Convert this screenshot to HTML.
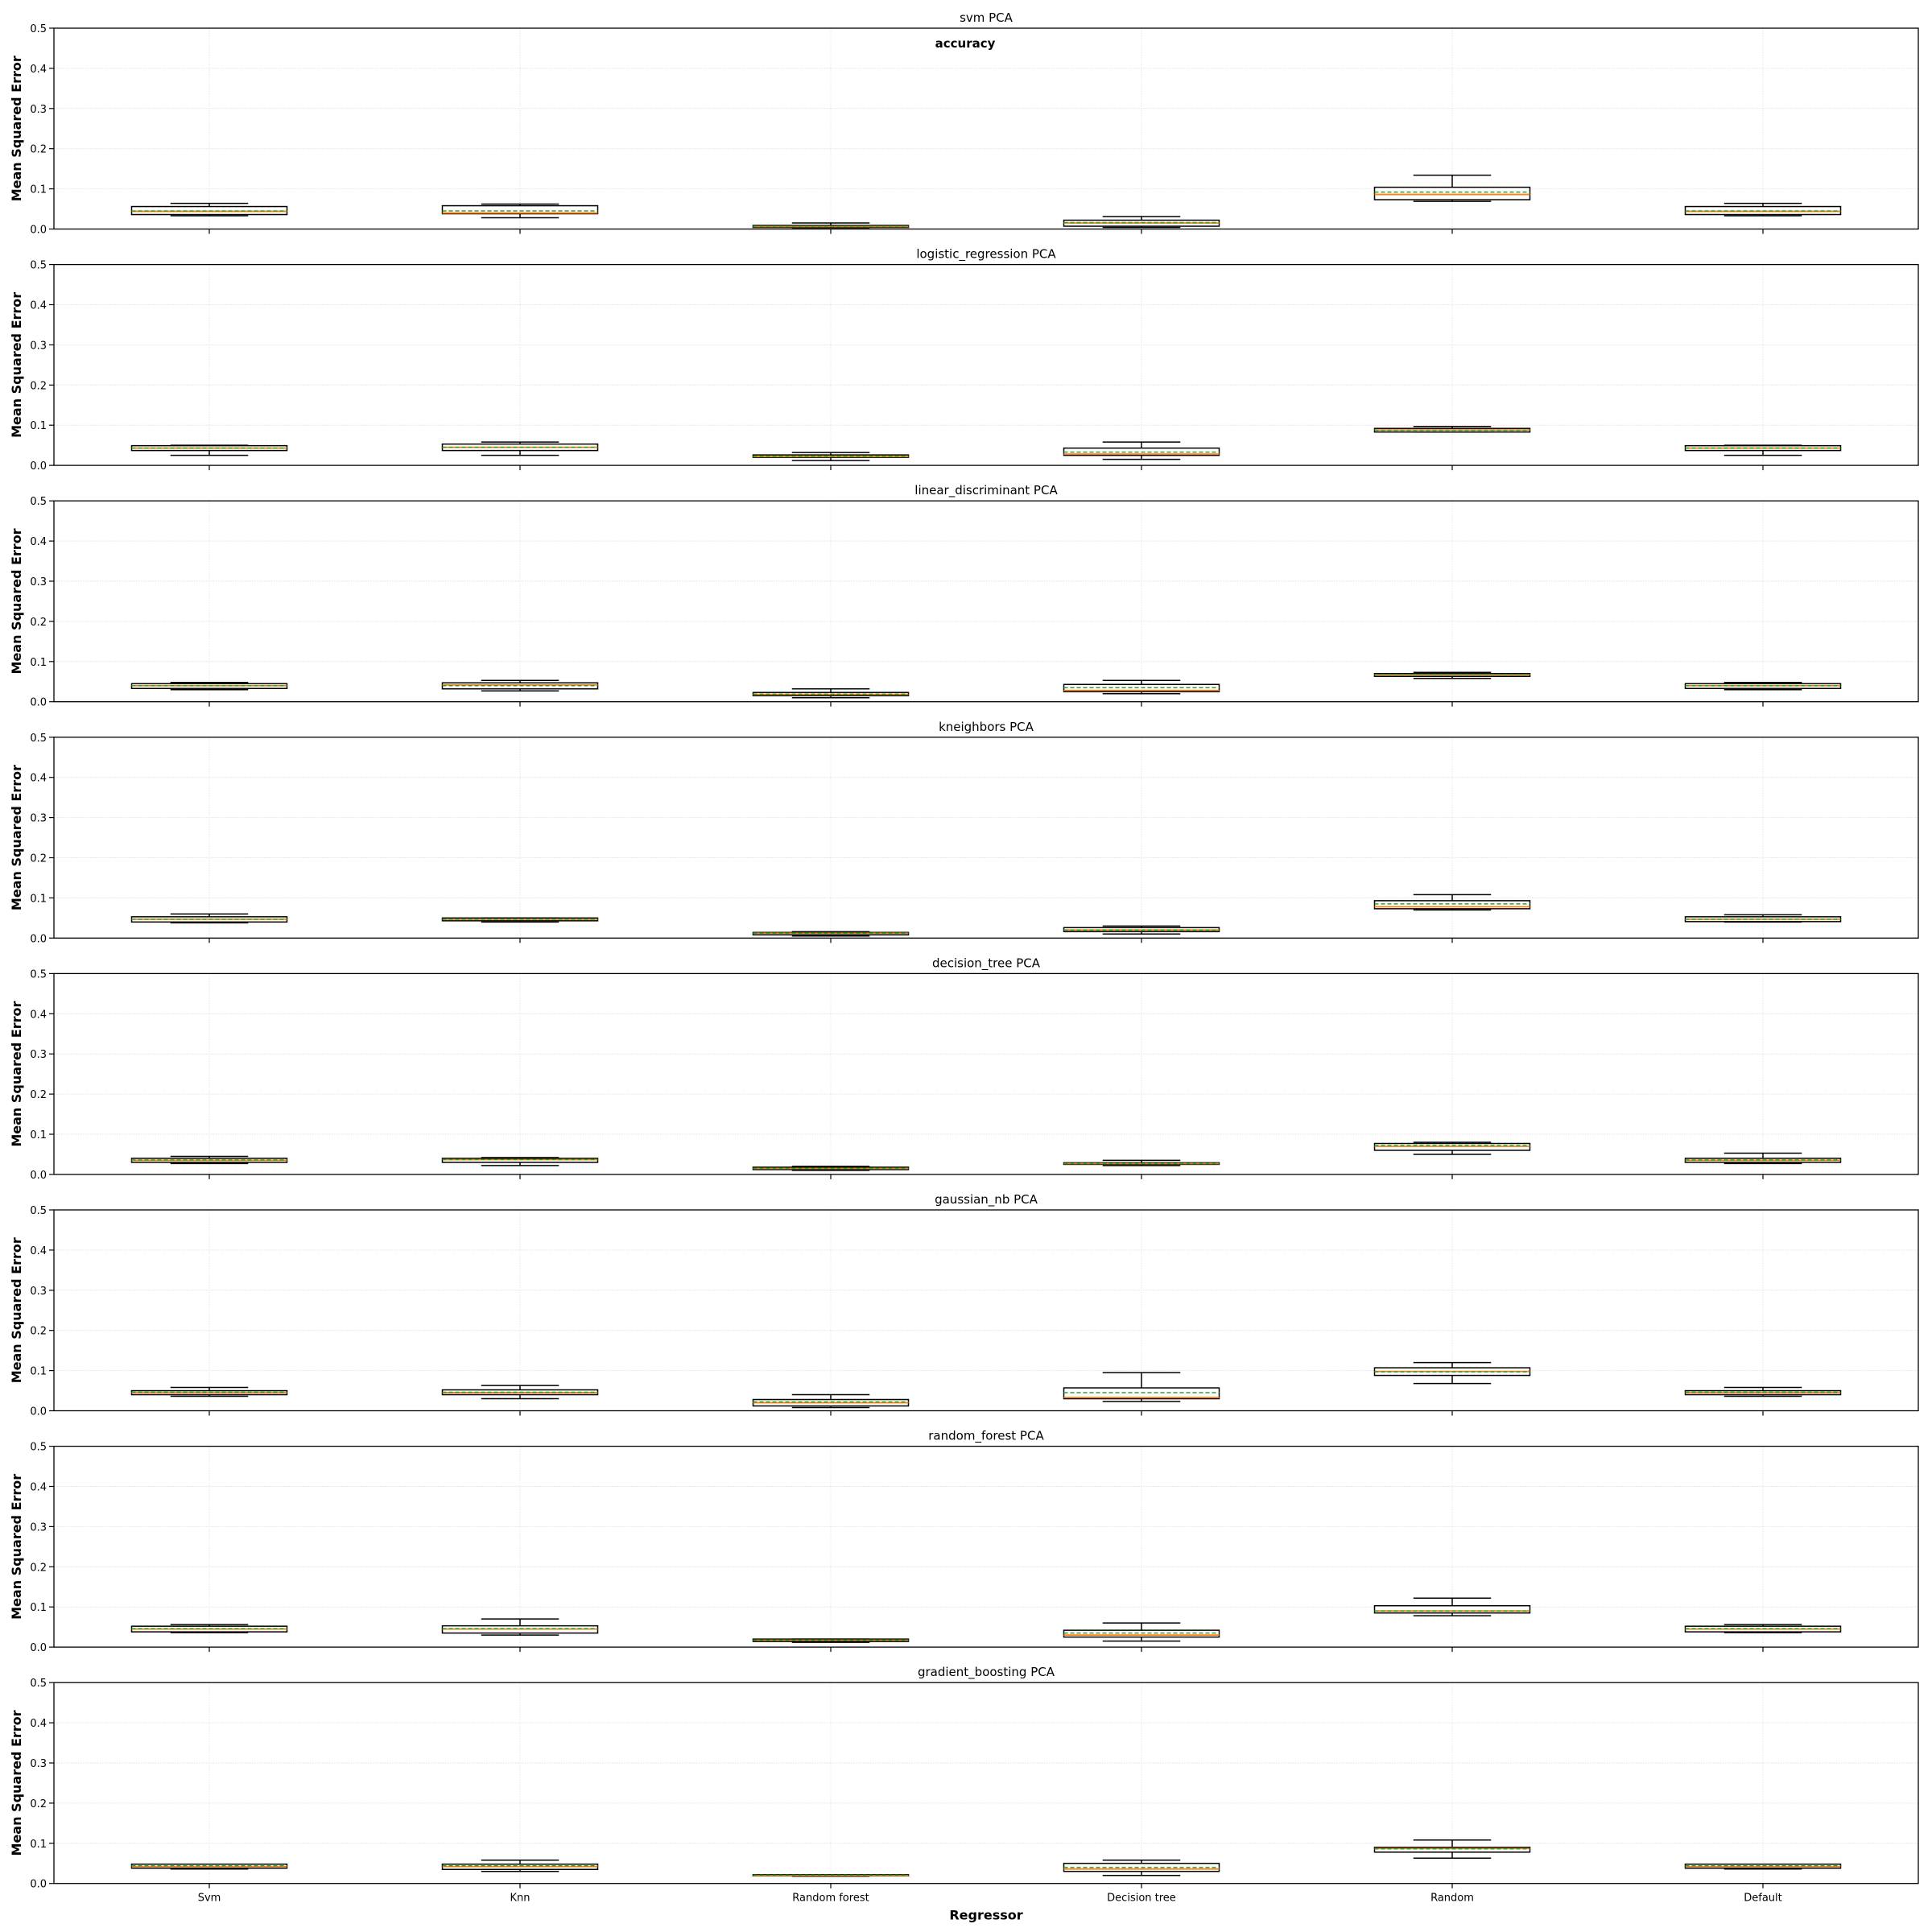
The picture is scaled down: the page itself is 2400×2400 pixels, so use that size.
<!DOCTYPE html>
<html><head><meta charset="utf-8"><style>
html,body{margin:0;padding:0;background:#fff}
svg{display:block;font-family:"DejaVu Sans","Liberation Sans",sans-serif}
</style></head><body>
<svg id="chart" width="2400" height="2400" viewBox="0 0 2400 2400" xmlns="http://www.w3.org/2000/svg"></svg>
<script>
const categories = ["Svm","Knn","Random forest","Decision tree","Random","Default"];
const panelTitles = ["svm PCA","logistic_regression PCA","linear_discriminant PCA","kneighbors PCA","decision_tree PCA","gaussian_nb PCA","random_forest PCA","gradient_boosting PCA"];
const yTicks = [0,0.1,0.2,0.3,0.4,0.5];
const yTickLabels = ["0.0","0.1","0.2","0.3","0.4","0.5"];
// each box: [low whisker, q1, median, mean, q3, high whisker]
const svmPCA = [[0.033,0.036,0.044,0.045,0.056,0.064],[0.028,0.038,0.040,0.045,0.058,0.062],[0.003,0.004,0.006,0.007,0.009,0.015],[0.004,0.007,0.015,0.016,0.022,0.031],[0.069,0.073,0.086,0.092,0.104,0.134],[0.033,0.036,0.044,0.045,0.056,0.064]];
const logisticPCA = [[0.025,0.037,0.043,0.043,0.049,0.050],[0.025,0.037,0.045,0.045,0.053,0.058],[0.012,0.020,0.022,0.023,0.026,0.032],[0.015,0.025,0.028,0.033,0.043,0.058],[0.083,0.083,0.088,0.087,0.092,0.097],[0.025,0.037,0.043,0.043,0.049,0.050]];
const linearPCA = [[0.030,0.033,0.040,0.040,0.045,0.048],[0.027,0.032,0.042,0.040,0.047,0.053],[0.010,0.015,0.018,0.019,0.023,0.032],[0.020,0.025,0.028,0.035,0.043,0.053],[0.058,0.063,0.067,0.068,0.070,0.073],[0.030,0.033,0.040,0.040,0.045,0.048]];
const kneighborsPCA = [[0.038,0.040,0.047,0.047,0.053,0.060],[0.040,0.043,0.047,0.047,0.050,0.050],[0.005,0.008,0.012,0.012,0.014,0.016],[0.010,0.016,0.020,0.020,0.026,0.030],[0.070,0.073,0.078,0.085,0.093,0.108],[0.040,0.041,0.047,0.047,0.053,0.058]];
const decisionTreePCA = [[0.027,0.030,0.035,0.036,0.040,0.045],[0.022,0.030,0.037,0.037,0.040,0.042],[0.010,0.012,0.015,0.015,0.018,0.020],[0.022,0.025,0.027,0.027,0.029,0.035],[0.050,0.060,0.070,0.072,0.077,0.080],[0.027,0.030,0.035,0.036,0.040,0.053]];
const gaussianPCA = [[0.036,0.040,0.045,0.046,0.050,0.058],[0.030,0.040,0.045,0.046,0.052,0.063],[0.008,0.012,0.020,0.022,0.028,0.040],[0.023,0.030,0.033,0.045,0.057,0.095],[0.068,0.088,0.098,0.097,0.107,0.120],[0.036,0.040,0.045,0.046,0.050,0.058]];
const randomForestPCA = [[0.036,0.038,0.045,0.046,0.052,0.056],[0.030,0.035,0.045,0.046,0.053,0.070],[0.012,0.014,0.017,0.017,0.020,0.020],[0.015,0.025,0.030,0.035,0.042,0.060],[0.078,0.085,0.090,0.090,0.103,0.122],[0.036,0.038,0.045,0.046,0.052,0.056]];
const gradientPCA = [[0.036,0.038,0.042,0.044,0.048,0.048],[0.030,0.035,0.042,0.044,0.048,0.058],[0.018,0.019,0.020,0.021,0.022,0.022],[0.020,0.030,0.036,0.040,0.050,0.058],[0.063,0.078,0.087,0.086,0.090,0.108],[0.036,0.038,0.042,0.044,0.048,0.048]];
const panelData = [svmPCA,logisticPCA,linearPCA,kneighborsPCA,decisionTreePCA,gaussianPCA,randomForestPCA,gradientPCA];

const NS="http://www.w3.org/2000/svg";
const svg=document.getElementById('chart');
const L=67,R=2383,TOP0=35,STEP=293.6,H=249.5;
function mk(tag,attrs,parent){const e=document.createElementNS(NS,tag);for(const k in attrs)e.setAttribute(k,attrs[k]);(parent||svg).appendChild(e);return e;}
const unit=(R-L)/categories.length;
function xs(i){return L+unit*(i+0.5);}

panelData.forEach((data,p)=>{
  const top=TOP0+p*STEP, bot=top+H;
  const ys=v=>bot-(v/0.5)*H;
  const g=mk('g',{});
  
  
  yTicks.forEach((t,k)=>{
    const y=ys(t);
    if(k>0&&k<yTicks.length-1){const gl=mk('line',{x1:L,x2:R,y1:y,y2:y,stroke:'#e2e2e2','stroke-width':1,'stroke-dasharray':'1.5,1.5'},g);
      }
    const tk=mk('line',{x1:L-6,x2:L,y1:y,y2:y,stroke:'#000','stroke-width':1.2},g);
    
    const tl=mk('text',{x:L-9,y:y+5,'text-anchor':'end','font-size':13},g);
    tl.textContent=yTickLabels[k];
    
  });
  categories.forEach((c,i)=>{
    const x=xs(i);
    const vl=mk('line',{x1:x,x2:x,y1:top,y2:bot,stroke:'#e6e6e6','stroke-width':1,'stroke-dasharray':'1.5,1.5'},g);
    
    const tk=mk('line',{x1:x,x2:x,y1:bot,y2:bot+6,stroke:'#000','stroke-width':1.2},g);
    
  });
  data.forEach((d,i)=>{
    const [lo,q1,med,mean,q3,hi]=d;
    const x=xs(i),bw=unit*0.5,cw=unit*0.25;
    const bg=mk('g',{},g);
    
    
    mk('line',{x1:x,x2:x,y1:ys(hi),y2:ys(q3),stroke:'#000','stroke-width':1.5},bg);
    mk('line',{x1:x,x2:x,y1:ys(q1),y2:ys(lo),stroke:'#000','stroke-width':1.5},bg);
    mk('line',{x1:x-cw/2,x2:x+cw/2,y1:ys(hi),y2:ys(hi),stroke:'#000','stroke-width':1.5},bg);
    mk('line',{x1:x-cw/2,x2:x+cw/2,y1:ys(lo),y2:ys(lo),stroke:'#000','stroke-width':1.5},bg);
    mk('rect',{x:x-bw/2,y:ys(q3),width:bw,height:Math.max(ys(q1)-ys(q3),1),fill:'#fff',stroke:'#000','stroke-width':1.5},bg);
    mk('line',{x1:x-bw/2,x2:x+bw/2,y1:ys(med),y2:ys(med),stroke:'#ff7f0e','stroke-width':1.8},bg);
    mk('line',{x1:x-bw/2,x2:x+bw/2,y1:ys(mean),y2:ys(mean),stroke:'#2ca02c','stroke-width':1.5,'stroke-dasharray':'5,3'},bg);
  });
  const fr=mk('rect',{x:L,y:top,width:R-L,height:H,fill:'none',stroke:'#000','stroke-width':1.3},g);
  
  const t=mk('text',{x:(L+R)/2,y:top-8,'text-anchor':'middle','font-size':15},g);
  t.textContent=panelTitles[p];
  
  const yl=mk('text',{x:0,y:0,'text-anchor':'middle','font-size':16,'font-weight':'bold',transform:`translate(26,${top+H/2}) rotate(-90)`},g);
  yl.textContent='Mean Squared Error';
  
});
const lastBot=TOP0+7*STEP+H;
categories.forEach((c,i)=>{
  const t=mk('text',{x:xs(i),y:lastBot+22,'text-anchor':'middle','font-size':13});
  t.textContent=c;
  
});
const xt=mk('text',{x:(L+R)/2,y:lastBot+45,'text-anchor':'middle','font-size':16,'font-weight':'bold'});
xt.textContent='Regressor';

const st=mk('text',{x:1199,y:59,'text-anchor':'middle','font-size':15,'font-weight':'bold'});
st.textContent='accuracy';

</script>
</body></html>
